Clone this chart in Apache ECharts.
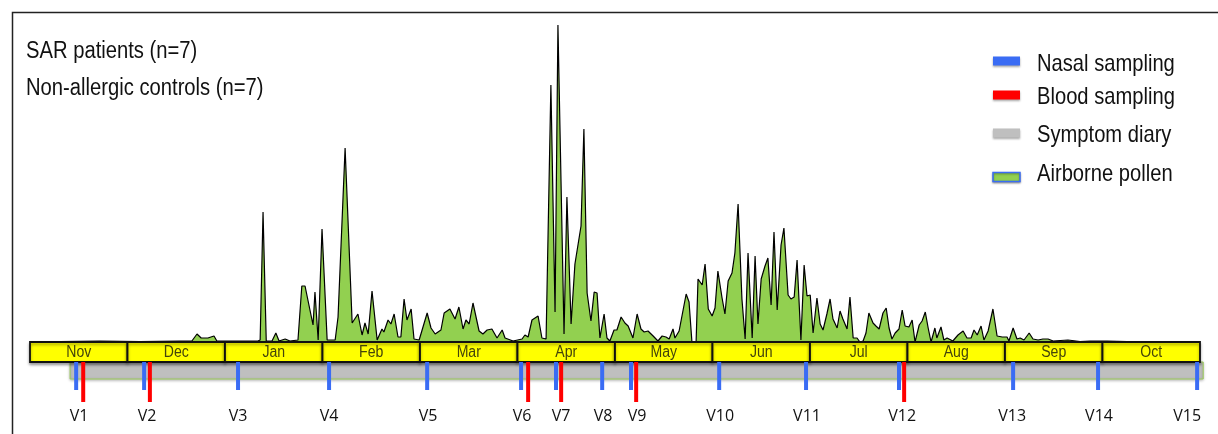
<!DOCTYPE html>
<html>
<head>
<meta charset="utf-8">
<script src="https://cdn.jsdelivr.net/npm/echarts@6/dist/echarts.min.js"></script>
<style>
html,body{margin:0;padding:0;background:#fff;}
#chart{width:1218px;height:434px;}
</style>
</head>
<body>
<div id="chart"></div>
<script>
// ---------- data ----------
const DAYS = 365; // Nov 1 .. Oct 31, x axis in days
const MONTHS = ['Nov','Dec','Jan','Feb','Mar','Apr','May','Jun','Jul','Aug','Sep','Oct'];

// airborne pollen: [day since Nov 1, relative count]
const POLLEN = [
  [0,0.5],[9.4,0.5],[21.8,1],[34.3,0.5],[46.8,1],[50.5,1],[52.1,8],[53.4,4],[55.5,4],[57.4,6],[58.3,1],
  [65.5,1],[71.1,1],[71.8,2],[72.7,130],[73.7,1],[75.5,1],[76.7,9],[77.7,1],[79.6,3],[81.1,1],[83.6,2],
  [84.8,56],[85.8,56],[88.3,17],[88.9,50],[89.9,2],[91.1,113],[92.7,2],[95.2,2],[96.1,25],[98.3,194],
  [100.5,19],[102.3,28],[103.6,7],[104.5,19],[105.5,8],[106.7,51],[108.3,2],[109.8,13],[110.4,10],
  [111.7,22],[112.6,18],[113.6,28],[114.8,5],[115.7,5],[116.7,43],[117.6,22],[118.9,33],[119.8,3],
  [121.4,2],[123.9,29],[125.1,14],[126.4,8],[128.2,12],[129.2,29],[131.0,33],[132.6,23],[133.8,35],
  [135.1,13],[136.0,22],[137.0,18],[138.2,39],[140.1,11],[141.3,8],[142.6,12],[144.1,13],[145.7,4],
  [147.3,12],[148.2,4],[150.7,1],[153.5,3],[154.4,7],[155.4,5],[156.6,22],[158.5,26],[159.7,4],[161.0,3],
  [162.5,257],[163.8,30],[164.7,317],[166.6,8],[167.5,145],[168.8,18],[170.0,78],[171.9,116],[172.8,213],
  [173.8,49],[175.0,21],[176.0,50],[176.9,49],[177.8,4],[179.1,28],[180.0,4],[180.9,1],[182.2,12],
  [183.1,12],[184.4,25],[185.6,19],[186.6,16],[188.1,4],[189.4,28],[190.6,13],[191.6,10],[192.8,11],
  [194.4,6],[195.9,1],[197.2,6],[198.4,5],[199.4,3],[200.6,13],[201.2,4],[202.5,11],[204.7,48],[205.6,40],
  [206.5,0],[207.8,0],[208.4,63],[209.7,57],[210.6,78],[211.6,33],[212.8,26],[213.7,34],[214.6,71],
  [215.9,44],[216.8,28],[217.8,61],[219.0,69],[219.9,89],[220.9,138],[222.1,43],[223.1,3],[224.0,89],
  [225.3,4],[226.2,86],[227.1,18],[228.1,63],[229.3,76],[230.2,84],[231.2,37],[232.1,110],[233.1,32],
  [234.3,97],[235.2,114],[236.5,47],[237.4,43],[238.4,45],[239.3,82],[240.5,2],[241.5,77],[242.4,46],
  [243.4,47],[244.3,9],[245.5,44],[246.5,18],[247.4,12],[248.6,28],[249.6,43],[250.5,23],[251.8,14],
  [252.7,31],[253.6,23],[254.9,13],[255.8,45],[256.8,4],[258.0,4],[258.9,0],[259.9,1],[260.8,9],
  [261.7,29],[263.0,19],[263.9,16],[264.9,13],[266.1,29],[267.1,34],[268.0,14],[268.9,3],[269.9,9],
  [271.1,13],[272.1,32],[273.0,16],[274.2,15],[275.2,22],[276.1,0],[277.4,17],[278.3,21],[279.3,30],
  [280.2,14],[281.1,0],[282.3,14],[282.9,4],[284.2,15],[285.1,2],[286.1,4],[287.9,1],[289.5,7],
  [291.1,11],[292.3,4],[293.6,4],[294.5,12],[295.5,7],[296.7,16],[297.6,2],[298.9,11],[300.4,33],
  [301.7,6],[303.3,5],[304.8,5],[305.4,1],[306.7,14],[307.9,3],[308.9,4],[310.1,2],[311.7,9],[312.9,3],
  [314.5,2],[316.0,3],[317.6,3],[319.2,1],[323.8,2],[327.6,0.5],[330.7,1],[336.0,1],[342.2,0.5],[365,0]
];

// visits (day since Nov 1)
const VISIT_LABELS = ['V1','V2','V3','V4','V5','V6','V7','V8','V9','V10','V11','V12','V13','V14','V15'];
const VISIT_LABEL_DAYS = [15.3,36.5,64.9,93.3,124.2,153.5,165.7,178.8,189.4,215.3,242.4,272.1,306.4,333.5,361.0];
const NASAL_DAYS = [14.4,35.6,64.9,93.3,123.9,153.2,164.1,178.5,187.5,215.0,242.1,271.1,306.7,333.2,364.1];
const BLOOD_DAYS = [16.6,37.4,155.4,165.7,189.1,272.7];
const SYMPTOM_DIARY = [[12.5,366]];

const LEGEND_NAMES = ['Nasal sampling','Blood sampling','Symptom diary','Airborne pollen'];
const TITLE_LINES = ['SAR patients (n=7)','Non-allergic controls (n=7)'];

// ---------- chart ----------
const chart = echarts.init(document.getElementById('chart'), null, {renderer:'canvas'});
const FONT = 'Liberation Sans, Arial, sans-serif';
const BLUE = '#3a6cf4', RED = '#ff0000', GRAY = '#bfbfbf', GREEN = '#92d050';

function monthItem(params, api){
  const i = api.value(0);
  const p0 = api.coord([i*DAYS/12, 0]);
  const p1 = api.coord([(i+1)*DAYS/12, -20]);
  const cx = (p0[0]+p1[0])/2, cy = (p0[1]+p1[1])/2 + 1;
  return {type:'group', children:[
    {type:'rect', shape:{x:p0[0], y:p0[1], width:p1[0]-p0[0], height:p1[1]-p0[1]},
     style:{fill:'#ffff00', stroke:'#111', lineWidth:1.8, shadowBlur:3, shadowColor:'rgba(0,0,0,0.35)', shadowOffsetY:2}},
    {type:'text', x:cx, y:cy, scaleX:0.88,
     style:{text:MONTHS[i], x:0, y:0, align:'center', verticalAlign:'middle',
     fill:'#44440a', font:'16px "Liberation Sans", Arial, sans-serif', fontSize:16, fontFamily:FONT}}
  ]};
}
function diaryItem(params, api){
  const p0 = api.coord([api.value(0), -20]);
  const p1 = api.coord([api.value(1), -37]);
  return {type:'rect', shape:{x:p0[0], y:p0[1], width:p1[0]-p0[0], height:p1[1]-p0[1]},
    style:{fill:GRAY, stroke:'#9ccc5a', lineWidth:1, shadowBlur:3, shadowColor:'rgba(0,0,0,0.3)', shadowOffsetY:1}};
}
function markItem(depth, color){
  return function(params, api){
    const p0 = api.coord([api.value(0), -20]);
    const p1 = api.coord([api.value(0), depth]);
    return {type:'rect', shape:{x:p0[0]-2, y:p0[1], width:4, height:p1[1]-p0[1]}, style:{fill:color}};
  };
}
function labelItem(params, api){
  const p = api.coord([api.value(0), -74]);
  return {type:'text', style:{text:VISIT_LABELS[params.dataIndex], x:p[0], y:p[1], align:'center', verticalAlign:'middle',
    fill:'#111', font:'16px "Open Sans", "Liberation Sans", sans-serif', fontSize:16, fontFamily:'Open Sans, Liberation Sans, sans-serif'}};
}

// legend drawn as graphic (narrow tall font like the original)
const LEGEND_ICON_Y = [61, 95, 133, 177];
const LEGEND_TEXT_Y = [64, 97.5, 135, 174.5];
const legendColors = [BLUE, RED, GRAY, GREEN];
const legendGraphics = [];
LEGEND_NAMES.forEach((n, i) => {
  legendGraphics.push({type:'rect', shape:{x:993, y:LEGEND_ICON_Y[i]-4.5, width:27, height:9},
    style:{fill:legendColors[i], stroke: i===3 ? BLUE : null, lineWidth: i===3 ? 1.5 : 0,
      shadowBlur:2, shadowColor:'rgba(0,0,0,0.35)', shadowOffsetY:1}});
  legendGraphics.push({type:'text', x:1037, y:LEGEND_TEXT_Y[i], scaleX:0.84,
    style:{text:n, x:0, y:0, verticalAlign:'middle', fontSize:24, fontFamily:FONT, fill:'#111'}});
});

const TITLE_Y = [51.5, 88.5];
const titleGraphics = TITLE_LINES.map((t, i) => ({type:'text', x:26, y:TITLE_Y[i], scaleX:0.86,
  style:{text:t, x:0, y:0, verticalAlign:'middle', fontSize:23.5, fontFamily:FONT, fill:'#111'}}));

const option = {
  animation:false,
  grid:{left:30, right:18, top:22, bottom:0},
  xAxis:{type:'value', min:0, max:DAYS, show:false},
  yAxis:{type:'value', min:-92, max:320, show:false},
  graphic:[
    {type:'rect', shape:{x:12.5, y:12.5, width:1215, height:440}, style:{fill:'none', stroke:'#222', lineWidth:1.5}, z:0}
  ].concat(titleGraphics, legendGraphics),
  series:[
    {name:'Symptom diary', type:'custom', renderItem:diaryItem, data:SYMPTOM_DIARY, clip:false, z:1, itemStyle:{color:GRAY}},
    {name:'Airborne pollen', type:'line', data:POLLEN, showSymbol:false, symbol:'none', z:2,
      lineStyle:{color:'#000', width:1.2}, itemStyle:{color:GREEN}, areaStyle:{color:GREEN, opacity:1, origin:0}},
    {name:'months', type:'custom', renderItem:monthItem, data:MONTHS.map((m,i)=>[i]), clip:false, z:3},
    {name:'Nasal sampling', type:'custom', renderItem:markItem(-48, BLUE), data:NASAL_DAYS.map(d=>[d]), clip:false, z:4, itemStyle:{color:BLUE}},
    {name:'Blood sampling', type:'custom', renderItem:markItem(-60, RED), data:BLOOD_DAYS.map(d=>[d]), clip:false, z:5, itemStyle:{color:RED}},
    {name:'visits', type:'custom', renderItem:labelItem, data:VISIT_LABEL_DAYS.map(d=>[d]), clip:false, z:5}
  ]
};
chart.setOption(option);
</script>
</body>
</html>
